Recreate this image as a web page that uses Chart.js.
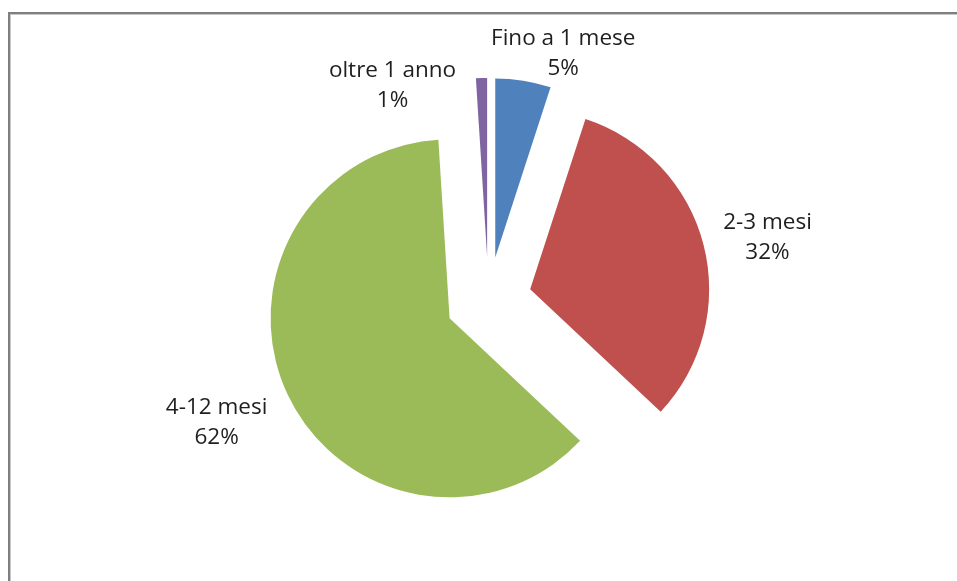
<!DOCTYPE html>
<html>
<head>
<meta charset="utf-8">
<script src="https://cdn.jsdelivr.net/npm/chart.js@4/dist/chart.umd.min.js"></script>
<style>
html,body{margin:0;padding:0;background:#fff;}
canvas{display:block;}
</style>
</head>
<body>
<canvas id="c" width="957" height="581"></canvas>
<script>
const categories = ["Fino a 1 mese", "2-3 mesi", "4-12 mesi", "oltre 1 anno"];
const percentages = [5, 32, 62, 1];
const sliceColors = ["#4F81BD", "#C0504D", "#9BBB59", "#8064A2"];

const frameBorder = {
  id: 'frameBorder',
  beforeDraw(chart) {
    const ctx = chart.ctx;
    ctx.save();
    ctx.fillStyle = '#ffffff';
    ctx.fillRect(0, 0, chart.width, chart.height);
    ctx.fillStyle = '#7f7f7f';
    ctx.fillRect(8, 12, chart.width - 8, 2);
    ctx.fillRect(8, 12, 2, chart.height - 12);
    ctx.fillStyle = '#c8c8c8';
    ctx.fillRect(10, 14, chart.width - 10, 1);
    ctx.fillRect(10, 14, 1, chart.height - 14);
    ctx.restore();
  }
};

// Pull every slice outward by the same pixel distance (Excel-style exploded pie)
const explode = {
  id: 'explode',
  beforeDatasetsDraw(chart, args, opts) {
    const dist = opts.distance || 0;
    chart.getDatasetMeta(0).data.forEach(arc => {
      if (arc._exploded) return;
      arc._exploded = true;
      const baseDraw = Chart.ArcElement.prototype.draw;
      arc.draw = function (ctx) {
        const mid = (this.startAngle + this.endAngle) / 2;
        ctx.save();
        ctx.translate(Math.cos(mid) * dist, Math.sin(mid) * dist);
        baseDraw.call(this, ctx);
        ctx.restore();
      };
    });
  }
};

const sliceLabels = {
  id: 'sliceLabels',
  afterDraw(chart, args, opts) {
    const ctx = chart.ctx;
    const meta = chart.getDatasetMeta(0);
    const ds = chart.data.datasets[0];
    const dist = chart.options.plugins.explode.distance || 0;
    ctx.save();
    ctx.font = opts.font;
    ctx.fillStyle = opts.color;
    ctx.textAlign = 'center';
    ctx.textBaseline = 'alphabetic';
    meta.data.forEach((arc, i) => {
      const p = arc.getProps(['x', 'y', 'startAngle', 'endAngle', 'outerRadius'], true);
      const mid = (p.startAngle + p.endAngle) / 2;
      const d = p.outerRadius + dist;
      const sh = opts.shift[i] || [0, 0];
      const cx = p.x + Math.cos(mid) * d + sh[0];
      const cy = p.y + Math.sin(mid) * d + sh[1];
      ctx.fillText(chart.data.labels[i], cx, cy - opts.lineGap / 2);
      ctx.fillText(ds.data[i] + '%', cx, cy + opts.lineGap / 2);
    });
    ctx.restore();
  }
};

new Chart(document.getElementById('c'), {
  type: 'pie',
  data: {
    labels: categories,
    datasets: [{
      data: percentages,
      backgroundColor: sliceColors,
      borderWidth: 0,
      offset: 0,
      hoverOffset: 0
    }]
  },
  options: {
    responsive: false,
    animation: false,
    radius: 179,
    layout: { padding: { left: 20, right: 0, top: 19, bottom: 0 } },
    events: [],
    plugins: {
      legend: { display: false },
      tooltip: { enabled: false },
      explode: { distance: 43 },
      sliceLabels: {
        font: '22.5px "Open Sans"',
        color: '#1f1f1f',
        lineGap: 30,
        shift: [[40, -21], [64, -1], [-71, 34], [-89, 14]]
      }
    }
  },
  plugins: [frameBorder, explode, sliceLabels]
});
</script>
</body>
</html>
